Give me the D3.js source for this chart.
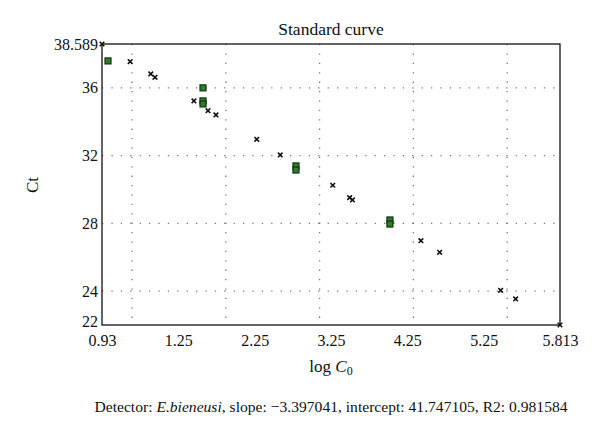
<!DOCTYPE html>
<html><head><meta charset="utf-8">
<script src="https://cdn.jsdelivr.net/npm/d3@7"></script>
<style>
body{margin:0;background:#fff;}
text{font-family:"Liberation Serif","DejaVu Serif",serif;fill:#111;}
</style></head>
<body><svg id="c" width="600" height="448"></svg>
<script>
const xTickLabels = ["0.93","1.25","2.25","3.25","4.25","5.25","5.813"];
const xGrid = [1.25, 2.25, 3.25, 4.25, 5.25];
const yTicks = [22, 24, 28, 32, 36, 38.589];
const yGrid = [24, 28, 32, 36];
const xDomain = [0.93, 5.813];
const yDomain = [22, 38.589];
// standards (green squares)
const stdX = [0.994, 2.007, 2.007, 2.007, 2.998, 2.998, 4.00, 4.00];
const stdY = [37.59, 36.00, 35.23, 35.05, 31.39, 31.15, 28.20, 27.96];
// unknowns (crosses)
const unkX = [0.93, 1.23, 1.45, 1.495, 1.91, 2.06, 2.145, 2.58, 2.83, 3.39, 3.57, 3.60, 4.33, 4.53, 5.18, 5.34, 5.813];
const unkY = [38.589, 37.55, 36.82, 36.62, 35.23, 34.65, 34.40, 32.96, 32.04, 30.25, 29.52, 29.38, 26.98, 26.29, 24.05, 23.54, 22];

const L=102, R=560, T=44, B=325;
const svg = d3.select("#c");
const x = d3.scaleLinear().domain(xDomain).range([L,R]);
const y = d3.scaleLinear().domain(yDomain).range([B,T]);
const xLab = d3.scalePoint().domain(xTickLabels).range([L,R]);

// grid
svg.append("g").selectAll("line").data(xGrid).join("line")
  .attr("x1",d=>x(d)).attr("x2",d=>x(d)).attr("y1",T).attr("y2",B)
  .attr("stroke","#777").attr("stroke-width",1.3).attr("stroke-dasharray","1.3,8.1");
svg.append("g").selectAll("line").data(yGrid).join("line")
  .attr("x1",L).attr("x2",R).attr("y1",d=>y(d)).attr("y2",d=>y(d))
  .attr("stroke","#777").attr("stroke-width",1.3).attr("stroke-dasharray","1.3,8.1");

// frame
svg.append("rect").attr("x",L).attr("y",T).attr("width",R-L).attr("height",B-T)
  .attr("fill","none").attr("stroke","#111").attr("stroke-width",1.3);

// axes
const xAxis = d3.axisBottom(xLab).tickSize(0).tickPadding(10);
svg.append("g").attr("transform",`translate(0,${B})`).call(xAxis)
  .call(g=>g.select(".domain").remove())
  .call(g=>g.selectAll("text").attr("font-size",16).attr("font-family","Liberation Serif").attr("fill","#111"));
const yAxis = d3.axisLeft(y).tickValues(yTicks).tickSize(0).tickPadding(4)
  .tickFormat(d=>d===38.589?"38.589":d3.format("d")(d));
svg.append("g").attr("transform",`translate(${L},0)`).call(yAxis)
  .call(g=>g.select(".domain").remove())
  .call(g=>g.selectAll("text").attr("font-size",16).attr("font-family","Liberation Serif").attr("fill","#111")
    .attr("dy",d=>d===22?"0.1em":"0.32em"));

// standards
const stdData = stdX.map((v,i)=>({x:v,y:stdY[i]}));
svg.append("g").selectAll("rect").data(stdData).join("rect")
  .attr("x",d=>x(d.x)-3).attr("y",d=>y(d.y)-3).attr("width",6).attr("height",6)
  .attr("fill","#2e7d2e").attr("stroke","#123312").attr("stroke-width",1.2);

// unknowns
const unkData = unkX.map((v,i)=>({x:v,y:unkY[i]}));
svg.append("g").selectAll("path").data(unkData).join("path")
  .attr("d",d=>{const cx=x(d.x), cy=y(d.y), s=2.3;
    return `M${cx-s},${cy-s}L${cx+s},${cy+s}M${cx-s},${cy+s}L${cx+s},${cy-s}`;})
  .attr("stroke","#111").attr("stroke-width",1.6);

// titles
svg.append("text").attr("x",331).attr("y",35).attr("text-anchor","middle")
  .attr("font-size",17.5).text("Standard curve");
svg.append("text").attr("transform","translate(38,185) rotate(-90)").attr("text-anchor","middle")
  .attr("font-size",17).text("Ct");
const xl = svg.append("text").attr("x",331).attr("y",372).attr("text-anchor","middle").attr("font-size",17);
xl.append("tspan").text("log ");
xl.append("tspan").attr("font-style","italic").text("C");
xl.append("tspan").attr("font-size",12).attr("dy",3).text("0");

const ft = svg.append("text").attr("x",331).attr("y",412).attr("text-anchor","middle").attr("font-size",15.6);
ft.append("tspan").text("Detector: ");
ft.append("tspan").attr("font-style","italic").text("E.bieneusi");
ft.append("tspan").text(", slope:  \u22123.397041, intercept: 41.747105, R2: 0.981584");
</script></body></html>
